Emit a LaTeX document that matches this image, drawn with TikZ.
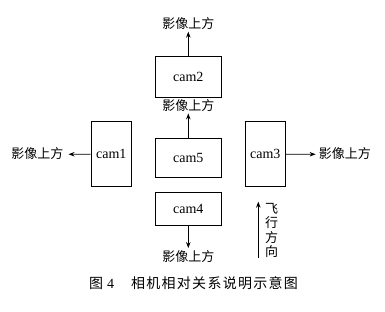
\documentclass[tikz,border=0pt]{standalone}
\usepackage{fontspec}
\setmainfont{Liberation Serif}
\newfontfamily\cjk{Noto Sans CJK SC}
\newfontfamily\cjkcap[LetterSpace=9]{Noto Sans CJK SC}
\usetikzlibrary{arrows.meta}
\begin{document}
\begin{tikzpicture}[x=1pt,y=-1pt,
  cambox/.style={draw,line width=0.8pt,inner sep=0pt,font=\fontsize{14}{16}\selectfont},
  lbl/.style={inner sep=1.5pt,font=\cjk\fontsize{13}{14}\selectfont,text height=0.88em,text depth=0.12em},
  arr/.style={line width=0.8pt,-{Stealth[length=6pt,width=4.5pt]}}]
\useasboundingbox (0,0) rectangle (385,311);
\node[cambox,minimum width=65.3pt,minimum height=40.6pt] (cam2) at (188.3,77) {cam2};
\node[cambox,minimum width=65.3pt,minimum height=39pt] (cam5) at (188.3,157.8) {cam5};
\node[cambox,minimum width=65.3pt,minimum height=32.6pt] (cam4) at (188.3,209) {cam4};
\node[cambox,minimum width=40.7pt,minimum height=65pt] (cam1) at (111.3,154.2) {cam1};
\node[cambox,minimum width=40.7pt,minimum height=65pt] (cam3) at (265.3,154.2) {cam3};
\node[lbl] (l2) at (188.3,25) {影像上方};
\node[lbl] (l5) at (188.3,106.7) {影像上方};
\node[lbl] (l1) at (37.3,154.3) {影像上方};
\node[lbl] (l3) at (344.8,154.3) {影像上方};
\node[lbl] (l4) at (188.3,257.3) {影像上方};
\draw[arr] (cam2) -- (l2);
\draw[arr] (cam5) -- (l5);
\draw[arr,shorten >=3.5pt] (cam1) -- (l1);
\draw[arr,shorten >=1.5pt] (cam3) -- (l3);
\draw[arr,shorten >=2.5pt] (cam4) -- (l4);
\coordinate (f0) at (258.3,258.3);
\coordinate (f1) at (258.3,201.7);
\draw[arr] (f0) -- (f1);
\node[inner sep=0pt,align=center,font=\cjk\fontsize{13}{14.6}\selectfont] (fly) at (271.7,230.5) {飞\\行\\方\\向};
\node[anchor=west,inner sep=0pt,font=\fontsize{14}{16}\selectfont] (cap) at (89,282.7) {\cjk 图\hspace{4pt}\rmfamily 4\hspace{17pt}\cjkcap 相机相对关系说明示意图};
\end{tikzpicture}
\end{document}
